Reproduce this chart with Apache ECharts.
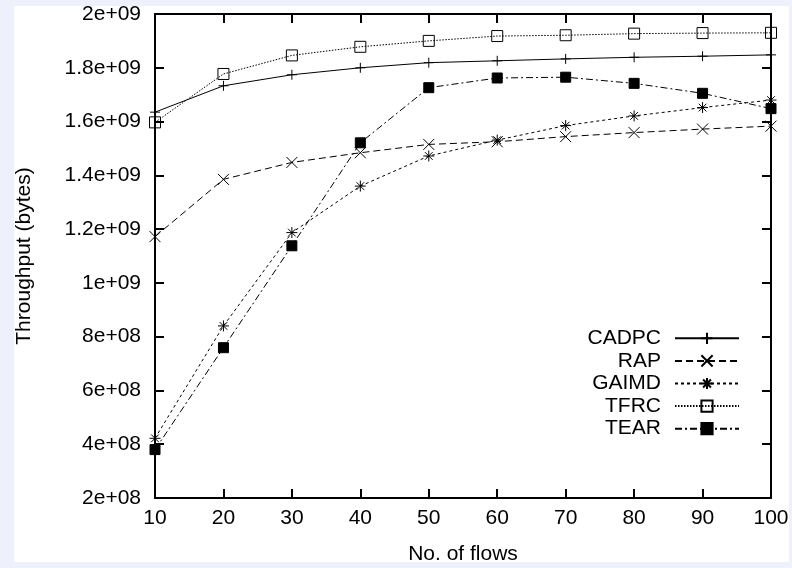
<!DOCTYPE html>
<html>
<head>
<meta charset="utf-8">
<style>
  html, body { margin: 0; padding: 0; background: #eef1fc; }
  #chart { width: 792px; height: 568px; }
</style>
<script src="https://cdn.jsdelivr.net/npm/echarts@6/dist/echarts.min.js"></script>
</head>
<body>
<div id="chart"></div>
<script>
// Number of concurrent flows
const flows = [10, 20, 30, 40, 50, 60, 70, 80, 90, 100];

// Aggregate throughput per protocol (bytes)
const cadpc = [1.635e9, 1.733e9, 1.774e9, 1.800e9, 1.819e9, 1.826e9, 1.833e9, 1.839e9, 1.843e9, 1.848e9];
const rap   = [1.172e9, 1.385e9, 1.448e9, 1.484e9, 1.515e9, 1.525e9, 1.544e9, 1.559e9, 1.572e9, 1.583e9];
const gaimd = [0.422e9, 0.840e9, 1.187e9, 1.360e9, 1.472e9, 1.531e9, 1.585e9, 1.621e9, 1.652e9, 1.680e9];
const tfrc  = [1.597e9, 1.777e9, 1.846e9, 1.878e9, 1.900e9, 1.918e9, 1.921e9, 1.927e9, 1.929e9, 1.930e9];
const tear  = [0.380e9, 0.759e9, 1.138e9, 1.521e9, 1.726e9, 1.762e9, 1.765e9, 1.742e9, 1.705e9, 1.648e9];

const seriesNames = ['CADPC', 'RAP', 'GAIMD', 'TFRC', 'TEAR'];

// Axis tick labels
const xTickLabels = ['10', '20', '30', '40', '50', '60', '70', '80', '90', '100'];
const yTickLabels = ['2e+08', '4e+08', '6e+08', '8e+08', '1e+09', '1.2e+09', '1.4e+09', '1.6e+09', '1.8e+09', '2e+09'];

const FONT = "'Liberation Sans', Arial, sans-serif";
const INK = '#000';

const X_MIN = 10, X_MAX = 100, X_STEP = 10;
const Y_MIN = 2e8, Y_MAX = 2e9, Y_STEP = 2e8;

const SYM_PLUS = 'path://M0,5L10,5M5,0L5,10';
const SYM_CROSS = 'path://M0,0L10,10M10,0L0,10';
const SYM_STAR = 'path://M0,5L10,5M5,0L5,10M1.5,1.5L8.5,8.5M8.5,1.5L1.5,8.5';

function pairs(values) {
  return flows.map((f, i) => [f, values[i]]);
}

function lineSeries(name, values, dash, symbol, size, fill) {
  return {
    name: name,
    type: 'line',
    data: pairs(values),
    symbol: symbol,
    symbolSize: size,
    showSymbol: true,
    lineStyle: { color: INK, width: 1, type: dash },
    itemStyle: { color: fill, borderColor: INK, borderWidth: 1 },
    emphasis: { disabled: true }
  };
}

function xLabel(v) {
  const i = Math.round((v - X_MIN) / X_STEP);
  return xTickLabels[i] !== undefined ? xTickLabels[i] : '';
}
function yLabel(v) {
  const i = Math.round((v - Y_MIN) / Y_STEP);
  return yTickLabels[i] !== undefined ? yTickLabels[i] : '';
}

// Boxed frame: every side drawn as an axis line with inward ticks
const frameAxis = {
  axisLine: { show: true, onZero: false, lineStyle: { color: INK, width: 2 } },
  axisTick: { show: true, inside: true, length: 9, lineStyle: { color: INK, width: 2 } },
  splitLine: { show: false }
};

const chart = echarts.init(document.getElementById('chart'), null, { renderer: 'canvas' });

chart.setOption({
  animation: false,
  backgroundColor: '#eef1fc',
  textStyle: { fontFamily: FONT, color: INK },
  grid: { left: 155, right: 21, top: 14, bottom: 70, containLabel: false, outerBoundsMode: 'none' },
  graphic: [
    { type: 'rect', z: -10, silent: true, shape: { x: 14, y: 6, width: 775, height: 556 }, style: { fill: '#ffffff' } },
    { type: 'rect', z: 100, silent: true, shape: { x: 789, y: 0, width: 3, height: 568 }, style: { fill: '#eef1fc' } },
    { type: 'rect', z: 100, silent: true, shape: { x: 0, y: 562, width: 792, height: 6 }, style: { fill: '#eef1fc' } }
  ],
  xAxis: [
    Object.assign({
      type: 'value', min: X_MIN, max: X_MAX, interval: X_STEP,
      name: 'No. of flows', nameLocation: 'middle', nameGap: 46,
      nameTextStyle: { fontSize: 21, fontFamily: FONT, color: INK },
      axisLabel: { fontSize: 21, fontFamily: FONT, color: INK, margin: 10, formatter: xLabel }
    }, frameAxis),
    Object.assign({
      type: 'value', min: X_MIN, max: X_MAX, interval: X_STEP, position: 'top',
      axisLabel: { show: false }
    }, frameAxis)
  ],
  yAxis: [
    Object.assign({
      type: 'value', min: Y_MIN, max: Y_MAX, interval: Y_STEP,
      name: 'Throughput (bytes)', nameLocation: 'middle', nameGap: 120, nameRotate: 90,
      nameTextStyle: { fontSize: 21, fontFamily: FONT, color: INK },
      axisLabel: { fontSize: 21, fontFamily: FONT, color: INK, margin: 14, formatter: yLabel }
    }, frameAxis),
    Object.assign({
      type: 'value', min: Y_MIN, max: Y_MAX, interval: Y_STEP, position: 'right',
      axisLabel: { show: false }
    }, frameAxis)
  ],
  legend: {
    data: seriesNames,
    orient: 'vertical',
    align: 'right',
    right: 52,
    top: 327,
    padding: 0,
    itemWidth: 64,
    itemHeight: 14,
    itemGap: 0,
    selectedMode: false,
    textStyle: { fontSize: 21, fontFamily: FONT, color: INK, lineHeight: 22.6, padding: [0, 9, 0, 0] }
  },
  series: [
    lineSeries('CADPC', cadpc, 'solid', SYM_PLUS, 10, INK),
    lineSeries('RAP', rap, [7, 4], SYM_CROSS, 11, INK),
    lineSeries('GAIMD', gaimd, [3, 3], SYM_STAR, 11, INK),
    lineSeries('TFRC', tfrc, [1.5, 1.5], 'rect', 11, 'rgba(0,0,0,0)'),
    lineSeries('TEAR', tear, [7, 3, 2, 3], 'rect', 10, INK)
  ]
});
</script>
</body>
</html>
